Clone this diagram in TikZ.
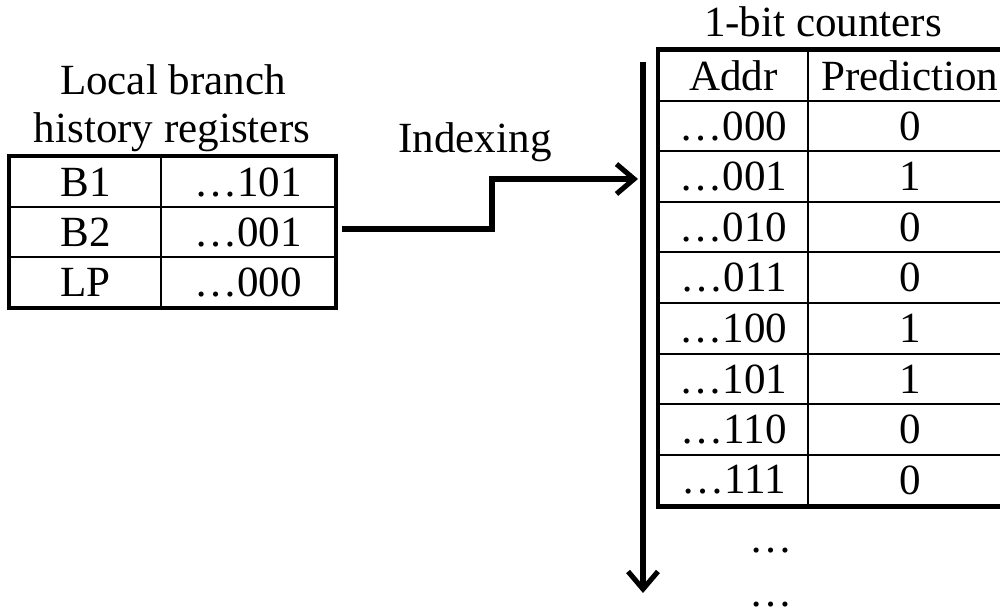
\documentclass[tikz,border=0pt]{standalone}
\usepackage{fontspec}
\setmainfont{Liberation Serif}
\usetikzlibrary{arrows.meta,positioning}

\begin{document}
\begin{tikzpicture}[cell/.style={shape=rectangle,draw,line width=1.1pt,inner sep=0pt,
							minimum height=1cm,text badly centered},
						tableframe/.style={line width=2.6pt},
						every node/.style={font=\fontsize{24.5}{29}\selectfont},
						>={Straight Barb[length=10pt,width=17pt]},line width=2.9pt]
		\useasboundingbox (0,0) rectangle (20,12.24);

		% history registers
		\node[anchor=base] (lbl1) at (3.46,10.34) {Local branch};
		\node[anchor=base] (lbl2) at (3.44,9.38) {history registers};
		\node[cell,minimum width=3.02cm] (regB1) at (1.71,8.6) {B1};
		\node[cell,minimum width=3.48cm] (histB1) at (4.96,8.6) {…101};
		\node[cell,minimum width=3.02cm] (regB2) at (1.71,7.6) {B2};
		\node[cell,minimum width=3.48cm] (histB2) at (4.96,7.6) {…001};
		\node[cell,minimum width=3.02cm] (regLP) at (1.71,6.6) {LP};
		\node[cell,minimum width=3.48cm] (histLP) at (4.96,6.6) {…000};
		\draw[tableframe] (regB1.north west) rectangle (histLP.south east);

		% counters
		\node[anchor=base] (cntlbl) at (16.46,11.5) {1-bit counters};
		\node[cell,minimum width=2.98cm,minimum height=1.012cm] (addr) at (14.67,10.73) {Addr};
		\node[cell,minimum width=4.08cm,minimum height=1.012cm] (pred) at (18.2,10.73) {Prediction};
		\node[cell,minimum width=2.98cm,minimum height=1.012cm] (a000) at (14.67,9.72) {…000};
		\node[cell,minimum width=4.08cm,minimum height=1.012cm] (p000) at (18.2,9.72) {0};
		\node[cell,minimum width=2.98cm,minimum height=1.012cm] (a001) at (14.67,8.71) {…001};
		\node[cell,minimum width=4.08cm,minimum height=1.012cm] (p001) at (18.2,8.71) {1};
		\node[cell,minimum width=2.98cm,minimum height=1.012cm] (a010) at (14.67,7.70) {…010};
		\node[cell,minimum width=4.08cm,minimum height=1.012cm] (p010) at (18.2,7.70) {0};
		\node[cell,minimum width=2.98cm,minimum height=1.012cm] (a011) at (14.67,6.69) {…011};
		\node[cell,minimum width=4.08cm,minimum height=1.012cm] (p011) at (18.2,6.69) {0};
		\node[cell,minimum width=2.98cm,minimum height=1.012cm] (a100) at (14.67,5.67) {…100};
		\node[cell,minimum width=4.08cm,minimum height=1.012cm] (p100) at (18.2,5.67) {1};
		\node[cell,minimum width=2.98cm,minimum height=1.012cm] (a101) at (14.67,4.66) {…101};
		\node[cell,minimum width=4.08cm,minimum height=1.012cm] (p101) at (18.2,4.66) {1};
		\node[cell,minimum width=2.98cm,minimum height=1.012cm] (a110) at (14.67,3.65) {…110};
		\node[cell,minimum width=4.08cm,minimum height=1.012cm] (p110) at (18.2,3.65) {0};
		\node[cell,minimum width=2.98cm,minimum height=1.012cm] (a111) at (14.67,2.64) {…111};
		\node[cell,minimum width=4.08cm,minimum height=1.012cm] (p111) at (18.2,2.64) {0};
		\draw[tableframe] (addr.north west) rectangle (p111.south east);
		\node[anchor=base] (more1) at (15.42,1.18) {…};
		\node[anchor=base] (more2) at (15.42,0.1) {…};

		% index axis
		\coordinate (top) at (12.86,11.0);
		\coordinate (bottom) at (12.86,0.38);
		\draw [->] (top) to (bottom);

		\node[anchor=base] (idxlbl) at (9.5,9.18) {Indexing};
		\coordinate (hit) at (12.76,8.66);
		\draw [->] ([xshift=.12cm,yshift=.06cm]histB2.east) -| (9.84,8.66) to (hit);

	\end{tikzpicture}
\end{document}
